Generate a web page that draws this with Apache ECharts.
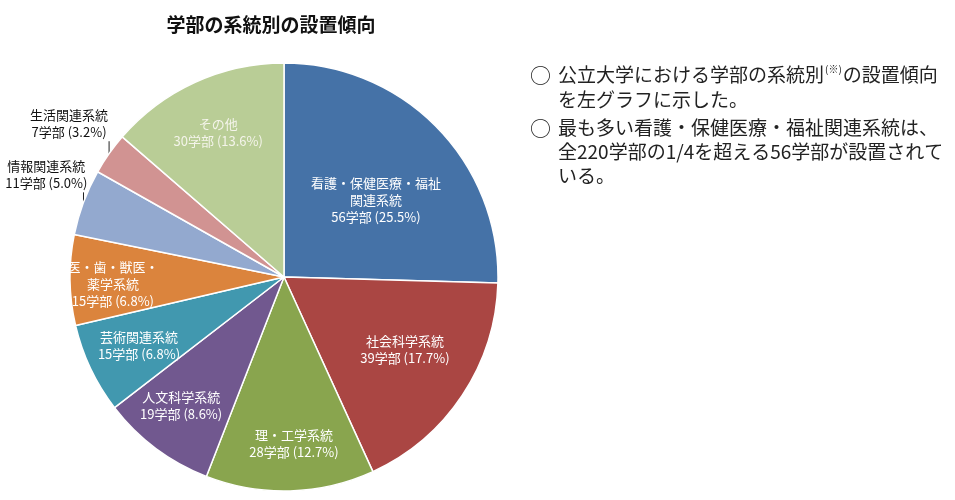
<!DOCTYPE html>
<html><head><meta charset="utf-8">
<script src="https://cdn.jsdelivr.net/npm/echarts@6/dist/echarts.min.js"></script>
<style>html,body{margin:0;padding:0;background:#fff}#c{width:955px;height:500px}</style>
</head><body><div id="c"></div>
<script>
// ---- data ----
const chartTitle = '学部の系統別の設置傾向';
const categories = ['看護・保健医療・福祉\n関連系統', '社会科学系統', '理・工学系統', '人文科学系統', '芸術関連系統', '医・歯・獣医・\n薬学系統', '情報関連系統', '生活関連系統', 'その他'];
const counts = [56, 39, 28, 19, 15, 15, 11, 7, 30];
const unit = '学部';
const noteLines = [
  '{t|公立大学における学部の系統別}{sup|(※)}{t|の設置傾向}',
  'を左グラフに示した。',
  '最も多い看護・保健医療・福祉関連系統は、',
  '全220学部の1/4を超える56学部が設置されて',
  'いる。'
];

// ---- styles ----
const colors = ['#4572A7', '#AA4643', '#89A54E', '#71588F', '#4198AF', '#DB843D', '#93A9CF', '#D19392', '#B9CD96'];
const labelRadius = [0.56, 0.66, 0.78, 0.77, 0.75, 0.80, 1.21, 1.235, 0.74];
const labelAngleShift = [4.3, -2.4, -1.8, 1.8, 0, -1.5, 2.9, 0.4, 0];
const outside = [false, false, false, false, false, false, true, true, false];
const labelColors = ['#fff', '#fff', '#fff', '#fff', '#fff', '#fff', '#111', '#111', '#f4f4ea'];
const CX = 284, CY = 277, R = 214;
const FONT = '"Noto Sans CJK JP", "Noto Sans", sans-serif';

const total = counts.reduce((a, b) => a + b, 0);
const cum = [];
counts.reduce((acc, v, i) => { cum[i] = acc + v / 2; return acc + v; }, 0);

const chart = echarts.init(document.getElementById('c'));
const noteY = [75, 100, 128, 152, 176];
const graphics = [];
[0, 2].forEach(i => graphics.push({
  type: 'text', x: 530, y: noteY[i],
  style: { text: '○', font: '21px ' + FONT, fill: '#222', align: 'left', verticalAlign: 'middle' }
}));
noteLines.forEach((t, i) => graphics.push({
  type: 'text', x: 558, y: noteY[i],
  style: {
    text: t, font: '19px ' + FONT, fill: '#222', align: 'left', verticalAlign: 'middle',
    rich: {
      t: { fontSize: 19, fontFamily: FONT, fill: '#222', lineHeight: 22 },
      sup: { fontSize: 10, fontFamily: FONT, fill: '#222', verticalAlign: 'top', lineHeight: 22, padding: [0, 1, 10, 1] }
    }
  }
}));

chart.setOption({
  backgroundColor: '#fff',
  animation: false,
  title: {
    text: chartTitle, left: 266, top: 10, textAlign: 'center',
    textStyle: { fontSize: 19, fontWeight: 'bold', color: '#111', fontFamily: FONT }
  },
  graphic: graphics,
  series: [{
    type: 'pie',
    center: [CX, CY],
    radius: R,
    startAngle: 90,
    clockwise: true,
    avoidLabelOverlap: false,
    itemStyle: { borderColor: '#fff', borderWidth: 1.5 },
    label: {
      fontFamily: FONT, fontSize: 13, lineHeight: 17, align: 'center',
      formatter: p => p.name + '\n' + p.value + unit + ' (' + (p.value / total * 100).toFixed(1) + '%)'
    },
    labelLine: { lineStyle: { color: '#222', width: 1 }, length: 8, length2: 0 },
    labelLayout: p => {
      const i = p.dataIndex;
      const mid = cum[i] / total * Math.PI * 2;
      const a = mid + labelAngleShift[i] * Math.PI / 180;
      const d = labelRadius[i] * R;
      const x = CX + d * Math.sin(a), y = CY - d * Math.cos(a);
      const res = { x: x, y: y, align: 'center', verticalAlign: 'middle' };
      if (outside[i]) {
        const ax = CX + R * Math.sin(mid), ay = CY - R * Math.cos(mid);
        const by = y + p.labelRect.height / 2 + 1;
        res.labelLinePoints = [[ax, ay], [ax, by], [ax, by]];
      }
      return res;
    },
    data: categories.map((c, i) => ({
      name: c, value: counts[i],
      itemStyle: { color: colors[i] },
      label: { position: outside[i] ? 'outside' : 'inside', color: labelColors[i] },
      labelLine: { show: outside[i] }
    }))
  }]
});
</script></body></html>
